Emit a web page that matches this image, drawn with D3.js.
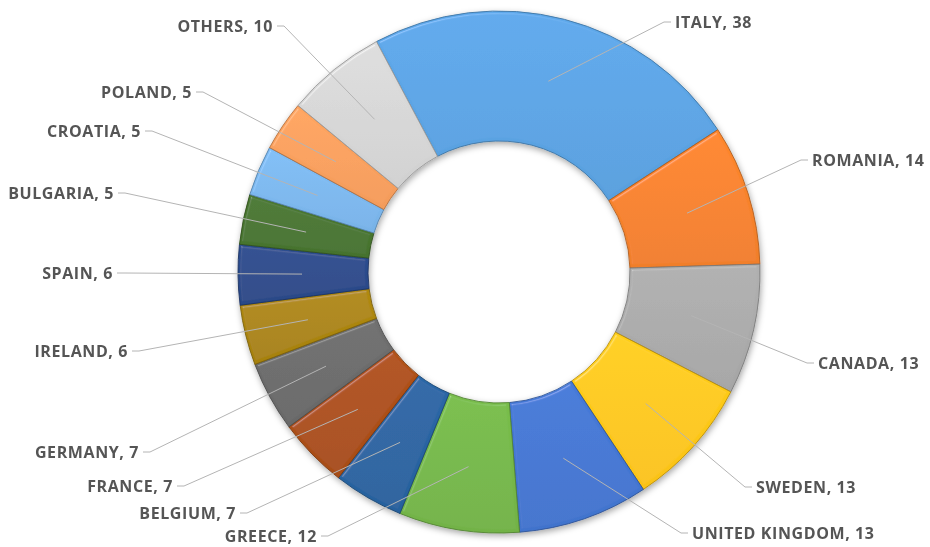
<!DOCTYPE html>
<html>
<head>
<meta charset="utf-8">
<script src="https://cdn.jsdelivr.net/npm/d3@7"></script>
<style>
  html, body { margin: 0; padding: 0; background: #fff; }
  svg { display: block; }
</style>
</head>
<body>
<svg id="chart" width="930" height="547"></svg>
<script>
// Countries and their counts, clockwise from the top-left
const categories = ["ITALY", "ROMANIA", "CANADA", "SWEDEN", "UNITED KINGDOM", "GREECE",
  "BELGIUM", "FRANCE", "GERMANY", "IRELAND", "SPAIN", "BULGARIA", "CROATIA", "POLAND", "OTHERS"];
const values = [38, 14, 13, 13, 13, 12, 7, 7, 7, 6, 6, 5, 5, 5, 10];
const colors = ["#5AA2E2", "#F5812A", "#A9A9A9", "#FFC614", "#4275D0", "#74B648",
  "#2863A0", "#AB4F18", "#6A6A6A", "#AA840E", "#2A4A8A", "#47742E", "#7BB6EC", "#F89E5C", "#D4D4D4"];

// Where each data label sits: edge nearest its leader line, vertical centre, side
const labelLayout = [
  { x: 675, y: 22, side: "right" },
  { x: 812, y: 160, side: "right" },
  { x: 818, y: 363, side: "right" },
  { x: 756, y: 487, side: "right" },
  { x: 692, y: 533, side: "right" },
  { x: 317, y: 536, side: "left" },
  { x: 236, y: 513, side: "left" },
  { x: 173, y: 486, side: "left" },
  { x: 139, y: 452, side: "left" },
  { x: 128, y: 351, side: "left" },
  { x: 113, y: 273, side: "left" },
  { x: 114, y: 193, side: "left" },
  { x: 141, y: 131, side: "left" },
  { x: 192, y: 92, side: "left" },
  { x: 273, y: 26, side: "left" }
];

const cx = 499, cy = 272, outerR = 261, innerR = 131, anchorR = 197;
const startDeg = -28;

const svg = d3.select("#chart");
const defs = svg.append("defs");

// Soft drop shadow under the ring
const shadow = defs.append("filter").attr("id", "shadow")
  .attr("x", "-20%").attr("y", "-20%").attr("width", "140%").attr("height", "140%");
shadow.append("feDropShadow").attr("dx", 1).attr("dy", 2.5)
  .attr("stdDeviation", 3).attr("flood-color", "#000").attr("flood-opacity", 0.35);

// Bevel highlight on each slice
const bevel = defs.append("filter").attr("id", "bevel")
  .attr("x", "-5%").attr("y", "-5%").attr("width", "110%").attr("height", "110%");
bevel.append("feGaussianBlur").attr("in", "SourceAlpha").attr("stdDeviation", 1.4).attr("result", "blur");
const spec = bevel.append("feSpecularLighting").attr("in", "blur")
  .attr("surfaceScale", 3).attr("specularConstant", 0.6).attr("specularExponent", 40)
  .attr("lighting-color", "#ffffff").attr("result", "spec");
spec.append("feDistantLight").attr("azimuth", 235).attr("elevation", 48);
bevel.append("feComposite").attr("in", "spec").attr("in2", "SourceAlpha")
  .attr("operator", "in").attr("result", "specIn");
bevel.append("feComposite").attr("in", "SourceGraphic").attr("in2", "specIn")
  .attr("operator", "arithmetic").attr("k1", 0).attr("k2", 1).attr("k3", 0.3).attr("k4", 0);

// Vertical gradient per slice, slightly lighter at the top
colors.forEach((c, i) => {
  const g = defs.append("linearGradient").attr("id", "grad" + i)
    .attr("x1", 0).attr("y1", 0).attr("x2", 0).attr("y2", 1);
  g.append("stop").attr("offset", "0%").attr("stop-color", d3.color(c).brighter(0.12));
  g.append("stop").attr("offset", "100%").attr("stop-color", d3.color(c).darker(0.06));
});

const pie = d3.pie().sort(null).value(d => d)
  .startAngle(startDeg * Math.PI / 180)
  .endAngle(startDeg * Math.PI / 180 + 2 * Math.PI);
const arcs = pie(values);

const arc = d3.arc().innerRadius(innerR).outerRadius(outerR);
const anchorArc = d3.arc().innerRadius(anchorR).outerRadius(anchorR);

const ring = svg.append("g").attr("transform", `translate(${cx},${cy})`)
  .attr("filter", "url(#shadow)");

ring.selectAll("path.slice").data(arcs).join("path")
  .attr("class", "slice")
  .attr("d", arc)
  .attr("fill", (d, i) => `url(#grad${i})`)
  .attr("stroke", (d, i) => d3.color(colors[i]).darker(0.9))
  .attr("stroke-width", 0.9)
  .attr("stroke-linejoin", "round")
  .attr("filter", "url(#bevel)");

// Leader lines from slice to label
const lines = svg.append("g").attr("fill", "none")
  .attr("stroke", "#B4B4B4").attr("stroke-width", 1);
arcs.forEach((d, i) => {
  const [ax, ay] = anchorArc.centroid(d);
  const L = labelLayout[i];
  const dir = L.side === "right" ? -1 : 1;
  const pts = [[cx + ax, cy + ay], [L.x + dir * 11, L.y], [L.x + dir * 4, L.y]];
  lines.append("polyline").attr("points", pts.map(p => p.join(",")).join(" "));
});

// Data labels
svg.append("g").selectAll("text").data(arcs).join("text")
  .attr("x", (d, i) => labelLayout[i].x)
  .attr("y", (d, i) => labelLayout[i].y)
  .attr("text-anchor", (d, i) => labelLayout[i].side === "right" ? "start" : "end")
  .attr("dominant-baseline", "central")
  .attr("font-family", "'Open Sans', 'Noto Sans', sans-serif")
  .attr("font-weight", 700)
  .attr("font-size", 16)
  .attr("letter-spacing", 0.6)
  .attr("fill", "#555555")
  .text((d, i) => `${categories[i]}, ${values[i]}`);
</script>
</body>
</html>
